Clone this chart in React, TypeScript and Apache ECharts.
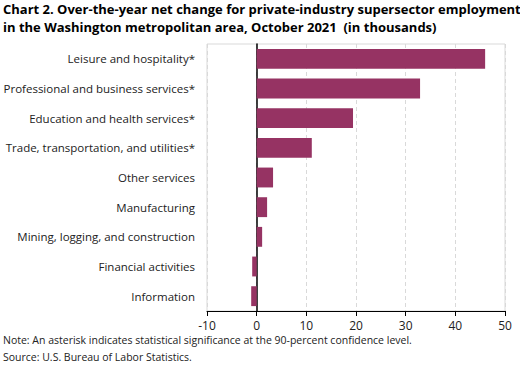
import React, { useEffect, useRef } from "react";
import * as echarts from "echarts";

const categories = [
  "Leisure and hospitality*",
  "Professional and business services*",
  "Education and health services*",
  "Trade, transportation, and utilities*",
  "Other services",
  "Manufacturing",
  "Mining, logging, and construction",
  "Financial activities",
  "Information",
];
const values = [46.0, 32.9, 19.4, 11.1, 3.3, 2.1, 1.1, -0.9, -1.1];
const titleLines = [
  "Chart 2. Over-the-year net change for private-industry supersector employment",
  "in the Washington metropolitan area, October 2021  (in thousands)",
];
const noteLines = [
  "Note: An asterisk indicates statistical significance at the 90-percent confidence level.",
  "Source: U.S. Bureau of Labor Statistics.",
];

export default function App() {
  const ref = useRef<HTMLDivElement>(null);
  useEffect(() => {
    const chart = echarts.init(ref.current!, null, { renderer: "svg" });
    chart.setOption({
      animation: false,
      textStyle: { fontFamily: "Open Sans" },
      grid: {
        left: 207,
        right: 15,
        top: 44,
        bottom: 56,
        show: true,
        borderColor: "#d9d9d9",
        borderWidth: 1,
      },
      xAxis: {
        type: "value",
        min: -10,
        max: 50,
        interval: 10,
        axisLine: { show: true, lineStyle: { color: "#000", width: 1 } },
        axisTick: { show: true, length: 5, lineStyle: { color: "#000" } },
        axisLabel: { color: "#222", fontSize: 12, fontFamily: "Open Sans", margin: 8 },
        splitLine: { show: true, lineStyle: { color: "#d9d9d9", type: [4, 3] } },
      },
      yAxis: {
        type: "category",
        data: categories,
        inverse: true,
        axisLine: { show: true, onZero: true, lineStyle: { color: "#000", width: 1.5 } },
        axisTick: { show: false },
        axisLabel: { color: "#222", fontSize: 11.5, fontFamily: "Open Sans", margin: 12 },
        splitLine: { show: false },
      },
      series: [
        {
          type: "bar",
          data: values,
          barCategoryGap: "33%",
          itemStyle: { color: "#963363" },
        },
      ],
      graphic: [
        ...titleLines.map((t, i) => ({
          type: "text",
          left: 3,
          top: 2 + i * 18,
          style: {
            text: t,
            fontFamily: "Open Sans",
            fontWeight: "bold",
            fontSize: 13,
            fill: "#000",
          },
        })),
        ...noteLines.map((t, i) => ({
          type: "text",
          left: 3,
          top: 334 + i * 17,
          style: {
            text: t,
            fontFamily: "Open Sans",
            fontSize: 10.5,
            fill: "#222",
          },
        })),
      ],
    });
    return () => chart.dispose();
  }, []);
  return <div ref={ref} style={{ width: 520, height: 367, position: "absolute", left: 0, top: 0 }} />;
}
